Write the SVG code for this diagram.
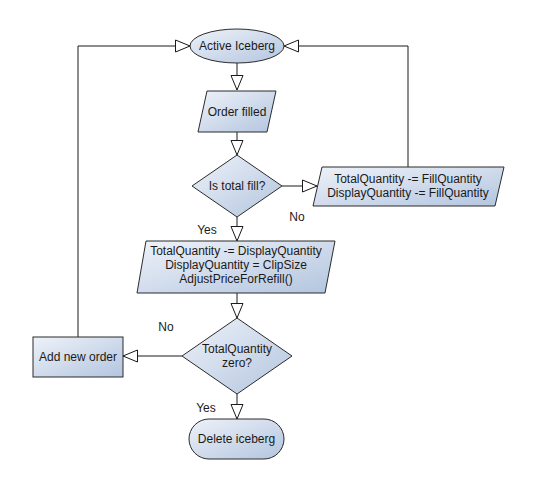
<svg xmlns="http://www.w3.org/2000/svg" width="539" height="494" viewBox="0 0 539 494">
<defs>
<linearGradient id="fill" x1="0" y1="0" x2="1" y2="1">
<stop offset="0" stop-color="#eef2f9"/>
<stop offset="1" stop-color="#b3c5df"/>
</linearGradient>
<marker id="arr" viewBox="0 0 16 14" refX="15.5" refY="7" markerWidth="16" markerHeight="14" markerUnits="userSpaceOnUse" orient="auto">
<path d="M1,1 L15.5,7 L1,13 Z" fill="#ffffff" stroke="#1a1a1a" stroke-width="1"/>
</marker>
</defs>
<style>
.shape{fill:url(#fill);stroke:#2b2b2b;stroke-width:1}
.t{font-family:"Liberation Sans",Arial,sans-serif;font-size:12px;fill:#1a1a1a;text-anchor:middle}
.lbl{font-family:"Liberation Sans",Arial,sans-serif;font-size:12px;fill:#1a1a1a;text-anchor:middle}
.c{fill:none;stroke:#1a1a1a;stroke-width:1;marker-end:url(#arr)}
</style>
<rect width="539" height="494" fill="#ffffff"/>
<g id="connectors">
<path class="c" d="M237,63 V90"/>
<path class="c" d="M237,132 V155"/>
<path class="c" d="M282,186 H317"/>
<path class="c" d="M408,167 V46 H284"/>
<path class="c" d="M237,217 V241"/>
<path class="c" d="M237,293 V318"/>
<path class="c" d="M182,356 H123"/>
<path class="c" d="M78,337 V46 H190"/>
<path class="c" d="M237,394 V419"/>
<text class="lbl" x="297" y="221">No</text>
<text class="lbl" x="207" y="234">Yes</text>
<text class="lbl" x="166" y="331">No</text>
<text class="lbl" x="206" y="412">Yes</text>
</g>
<g id="active-iceberg">
<ellipse class="shape" cx="237" cy="46" rx="47" ry="17"/>
<text class="t" x="237" y="50">Active Iceberg</text>
</g>
<g id="order-filled">
<polygon class="shape" points="207,91 276,91 267,132 198,132"/>
<text class="t" x="237" y="116">Order filled</text>
</g>
<g id="is-total-fill">
<polygon class="shape" points="237,155 282,186 237,217 192,186"/>
<text class="t" x="237" y="190">Is total fill?</text>
</g>
<g id="partial-fill">
<polygon class="shape" points="322,167 504,167 495,206 313,206"/>
<text class="t" x="408" y="183">TotalQuantity -= FillQuantity</text>
<text class="t" x="408" y="197">DisplayQuantity -= FillQuantity</text>
</g>
<g id="refill">
<polygon class="shape" points="146,241 335,241 325,293 137,293"/>
<text class="t" x="236" y="255">TotalQuantity -= DisplayQuantity</text>
<text class="t" x="236" y="269">DisplayQuantity = ClipSize</text>
<text class="t" x="236" y="283">AdjustPriceForRefill()</text>
</g>
<g id="total-zero">
<polygon class="shape" points="237,318 292,356 237,394 182,356"/>
<text class="t" x="237" y="353">TotalQuantity</text>
<text class="t" x="237" y="367">zero?</text>
</g>
<g id="add-new-order">
<rect class="shape" x="33" y="337" width="90" height="40"/>
<text class="t" x="78" y="361">Add new order</text>
</g>
<g id="delete-iceberg">
<rect class="shape" x="189" y="419" width="95" height="40" rx="20" ry="20"/>
<text class="t" x="236.5" y="443">Delete iceberg</text>
</g>
</svg>
